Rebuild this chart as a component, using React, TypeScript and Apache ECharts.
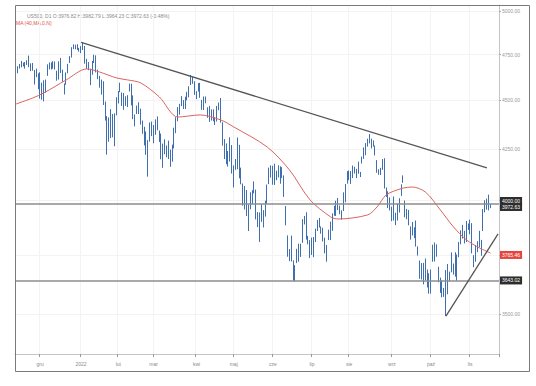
import React, { useEffect, useRef } from "react";
import * as echarts from "echarts";

// trading sessions per month (day numbers); last 4 sessions of 2022-11 are empty space on the right
const months = ["2021-11", "2021-12", "2022-01", "2022-02", "2022-03", "2022-04", "2022-05", "2022-06", "2022-07", "2022-08", "2022-09", "2022-10", "2022-11"];
const monthDays: number[][] = [
  [11, 12, 15, 16, 17, 18, 19, 22, 23, 24, 26, 29, 30],
  [1, 2, 3, 6, 7, 8, 9, 10, 13, 14, 15, 16, 17, 20, 21, 22, 23, 27, 28, 29, 30, 31],
  [3, 4, 5, 6, 7, 10, 11, 12, 13, 14, 18, 19, 20, 21, 24, 25, 26, 27, 28, 31],
  [1, 2, 3, 4, 7, 8, 9, 10, 11, 14, 15, 16, 17, 18, 22, 23, 24, 25, 28],
  [1, 2, 3, 4, 7, 8, 9, 10, 11, 14, 15, 16, 17, 18, 21, 22, 23, 24, 25, 28, 29, 30, 31],
  [1, 4, 5, 6, 7, 8, 11, 12, 13, 14, 18, 19, 20, 21, 22, 25, 26, 27, 28, 29],
  [2, 3, 4, 5, 6, 9, 10, 11, 12, 13, 16, 17, 18, 19, 20, 23, 24, 25, 26, 27, 31],
  [1, 2, 3, 6, 7, 8, 9, 10, 13, 14, 15, 16, 17, 21, 22, 23, 24, 27, 28, 29, 30],
  [1, 5, 6, 7, 8, 11, 12, 13, 14, 15, 18, 19, 20, 21, 22, 25, 26, 27, 28, 29],
  [1, 2, 3, 4, 5, 8, 9, 10, 11, 12, 15, 16, 17, 18, 19, 22, 23, 24, 25, 26, 29, 30, 31],
  [1, 2, 6, 7, 8, 9, 12, 13, 14, 15, 16, 19, 20, 21, 22, 23, 26, 27, 28, 29, 30],
  [3, 4, 5, 6, 7, 10, 11, 12, 13, 14, 17, 18, 19, 20, 21, 24, 25, 26, 27, 28, 31],
  [1, 2, 3, 4, 7, 8, 9, 10, 11, 14, 15, 16, 17, 18, 21, 22],
];
const monthLabels = ["", "gru", "2022", "lut", "mar", "kwi", "maj", "cze", "lip", "sie", "wrz", "paź", "lis"];

// [open, high, low, close]
const ohlc: number[][] = [
  [4659, 4664, 4648, 4649], [4656, 4685, 4646, 4683], [4689, 4697, 4672, 4683], [4680, 4714, 4679, 4701], [4701, 4705, 4684, 4689],
  [4700, 4708, 4672, 4705], [4708, 4718, 4692, 4698], [4712, 4744, 4680, 4683], [4679, 4701, 4658, 4691], [4676, 4703, 4660, 4701],
  [4664, 4664, 4585, 4595], [4628, 4672, 4625, 4655], [4640, 4646, 4560, 4567],
  [4602, 4652, 4510, 4513], [4504, 4595, 4504, 4577], [4590, 4608, 4495, 4538], [4548, 4612, 4541, 4592], [4632, 4695, 4632, 4687],
  [4690, 4706, 4668, 4701], [4691, 4706, 4667, 4667], [4688, 4713, 4671, 4712], [4710, 4711, 4667, 4669], [4642, 4660, 4606, 4634],
  [4637, 4712, 4612, 4710], [4719, 4731, 4648, 4669], [4652, 4666, 4600, 4621], [4588, 4591, 4532, 4568], [4594, 4651, 4584, 4649],
  [4650, 4698, 4646, 4697], [4703, 4741, 4703, 4726], [4733, 4791, 4733, 4791], [4795, 4807, 4780, 4786], [4788, 4805, 4779, 4793],
  [4794, 4808, 4776, 4779], [4776, 4787, 4766, 4766],
  [4779, 4797, 4758, 4797], [4804, 4819, 4775, 4794], [4788, 4798, 4699, 4701], [4693, 4726, 4671, 4696], [4698, 4708, 4663, 4677],
  [4656, 4671, 4582, 4670], [4670, 4714, 4638, 4713], [4728, 4749, 4703, 4726], [4734, 4745, 4651, 4659], [4637, 4666, 4614, 4663],
  [4632, 4632, 4568, 4577], [4588, 4612, 4531, 4533], [4548, 4603, 4476, 4483], [4471, 4494, 4395, 4398], [4357, 4418, 4222, 4410],
  [4367, 4411, 4287, 4356], [4381, 4454, 4305, 4350], [4381, 4429, 4309, 4327], [4337, 4432, 4264, 4432], [4431, 4517, 4422, 4516],
  [4520, 4550, 4484, 4547], [4566, 4595, 4544, 4589], [4535, 4542, 4471, 4477], [4483, 4540, 4451, 4501], [4505, 4522, 4471, 4484],
  [4481, 4528, 4465, 4522], [4548, 4590, 4548, 4587], [4554, 4589, 4474, 4504], [4506, 4527, 4402, 4419], [4413, 4426, 4365, 4402],
  [4430, 4473, 4429, 4471], [4456, 4490, 4429, 4475], [4456, 4457, 4374, 4380], [4385, 4395, 4327, 4349], [4332, 4363, 4268, 4305],
  [4324, 4339, 4221, 4226], [4156, 4295, 4114, 4289], [4298, 4385, 4287, 4385], [4354, 4389, 4315, 4374],
  [4363, 4372, 4279, 4306], [4322, 4401, 4322, 4387], [4401, 4416, 4345, 4363], [4342, 4343, 4285, 4329], [4327, 4328, 4199, 4201],
  [4202, 4277, 4157, 4171], [4224, 4299, 4224, 4278], [4253, 4268, 4209, 4260], [4279, 4292, 4200, 4204], [4203, 4247, 4162, 4173],
  [4189, 4272, 4187, 4262], [4289, 4358, 4253, 4358], [4346, 4412, 4330, 4412], [4398, 4465, 4391, 4463], [4462, 4482, 4425, 4461],
  [4470, 4523, 4470, 4512], [4493, 4502, 4455, 4456], [4469, 4520, 4455, 4520], [4523, 4546, 4501, 4543], [4542, 4576, 4517, 4576],
  [4603, 4637, 4582, 4632], [4624, 4627, 4589, 4602], [4600, 4603, 4530, 4530],
  [4540, 4549, 4507, 4546], [4547, 4593, 4547, 4583], [4573, 4594, 4514, 4525], [4495, 4503, 4451, 4481], [4475, 4521, 4450, 4500],
  [4494, 4521, 4485, 4488], [4462, 4464, 4409, 4413], [4437, 4471, 4388, 4397], [4397, 4453, 4395, 4447], [4449, 4453, 4391, 4393],
  [4385, 4411, 4372, 4392], [4390, 4471, 4390, 4462], [4473, 4489, 4448, 4459], [4489, 4513, 4384, 4394], [4385, 4386, 4267, 4272],
  [4255, 4300, 4200, 4296], [4278, 4278, 4175, 4175], [4187, 4240, 4163, 4184], [4223, 4309, 4188, 4288], [4253, 4270, 4129, 4132],
  [4130, 4169, 4062, 4155], [4159, 4200, 4147, 4175], [4181, 4308, 4150, 4300], [4271, 4271, 4106, 4147], [4129, 4158, 4077, 4123],
  [4081, 4081, 3976, 3991], [4035, 4069, 3958, 4001], [3991, 4050, 3928, 3935], [3904, 3981, 3859, 3930], [3964, 4039, 3959, 4024],
  [4013, 4049, 3983, 4008], [4053, 4091, 4034, 4089], [4052, 4052, 3912, 3924], [3899, 3946, 3877, 3901], [3928, 3944, 3810, 3901],
  [3920, 3982, 3901, 3974], [3942, 3955, 3875, 3941], [3929, 3999, 3925, 3979], [3985, 4076, 3985, 4058], [4078, 4158, 4078, 4158],
  [4151, 4169, 4110, 4132],
  [4150, 4167, 4075, 4101], [4096, 4177, 4074, 4177], [4137, 4143, 4097, 4109], [4135, 4169, 4110, 4121], [4097, 4164, 4080, 4161],
  [4148, 4160, 4107, 4116], [4102, 4120, 4017, 4018], [3974, 3974, 3885, 3901], [3838, 3839, 3744, 3750], [3764, 3778, 3725, 3735],
  [3765, 3838, 3723, 3790], [3728, 3728, 3640, 3667], [3666, 3707, 3637, 3675], [3716, 3779, 3716, 3765], [3733, 3802, 3722, 3760],
  [3774, 3802, 3743, 3796], [3806, 3913, 3806, 3912], [3921, 3928, 3889, 3900], [3913, 3945, 3820, 3822], [3825, 3837, 3799, 3819],
  [3785, 3818, 3738, 3785],
  [3782, 3829, 3752, 3825], [3792, 3832, 3742, 3831], [3831, 3870, 3809, 3845], [3859, 3910, 3859, 3903], [3888, 3919, 3875, 3899],
  [3880, 3880, 3847, 3854], [3851, 3874, 3812, 3819], [3779, 3829, 3759, 3802], [3764, 3796, 3722, 3790], [3820, 3865, 3818, 3863],
  [3883, 3902, 3818, 3831], [3861, 3940, 3860, 3937], [3935, 3975, 3929, 3960], [3956, 3999, 3928, 3999], [4001, 4012, 3955, 3962],
  [3966, 3976, 3936, 3967], [3953, 3954, 3911, 3921], [3951, 4039, 3951, 4024], [4027, 4079, 3992, 4072], [4088, 4141, 4080, 4130],
  [4112, 4144, 4097, 4119], [4104, 4141, 4079, 4091], [4107, 4168, 4107, 4155], [4154, 4162, 4129, 4152], [4116, 4152, 4107, 4145],
  [4156, 4187, 4128, 4140], [4134, 4137, 4112, 4122], [4181, 4212, 4178, 4210], [4227, 4258, 4201, 4207], [4225, 4280, 4219, 4280],
  [4270, 4302, 4262, 4297], [4290, 4325, 4278, 4305], [4281, 4302, 4253, 4274], [4274, 4293, 4262, 4284], [4267, 4267, 4218, 4228],
  [4195, 4195, 4133, 4138], [4134, 4150, 4123, 4129], [4127, 4157, 4122, 4141], [4154, 4200, 4147, 4199], [4199, 4204, 4057, 4058],
  [4034, 4062, 4017, 4031], [4041, 4044, 3965, 3986], [4000, 4015, 3954, 3955],
  [3937, 3971, 3904, 3967], [3995, 4019, 3907, 3924], [3930, 3943, 3886, 3908], [3910, 3987, 3907, 3980], [3959, 4011, 3944, 4006],
  [4022, 4077, 4022, 4067], [4084, 4120, 4084, 4110], [4000, 4000, 3922, 3933], [3940, 3961, 3913, 3946], [3932, 3956, 3885, 3901],
  [3830, 3880, 3820, 3873], [3849, 3900, 3839, 3900], [3876, 3876, 3827, 3856], [3872, 3907, 3789, 3790], [3782, 3790, 3749, 3758],
  [3727, 3727, 3648, 3693], [3682, 3716, 3645, 3655], [3687, 3717, 3624, 3647], [3652, 3736, 3641, 3719], [3688, 3688, 3611, 3640],
  [3634, 3672, 3585, 3586],
  [3609, 3688, 3585, 3678], [3722, 3797, 3722, 3791], [3754, 3807, 3723, 3783], [3772, 3799, 3744, 3745], [3700, 3700, 3633, 3640],
  [3647, 3653, 3588, 3612], [3595, 3641, 3569, 3589], [3591, 3609, 3571, 3577], [3520, 3686, 3491, 3670], [3691, 3712, 3582, 3583],
  [3638, 3679, 3638, 3678], [3746, 3763, 3676, 3720], [3683, 3714, 3666, 3695], [3689, 3764, 3657, 3666], [3657, 3754, 3640, 3753],
  [3762, 3810, 3742, 3797], [3799, 3862, 3799, 3859], [3825, 3887, 3825, 3831], [3835, 3860, 3803, 3807], [3809, 3905, 3809, 3901],
  [3881, 3893, 3864, 3872],
  [3901, 3911, 3844, 3856], [3853, 3895, 3759, 3760], [3733, 3751, 3698, 3720], [3767, 3796, 3722, 3771], [3781, 3813, 3764, 3807],
  [3817, 3860, 3786, 3828], [3810, 3819, 3748, 3749], [3859, 3960, 3859, 3956], [3964, 4001, 3945, 3993], [3978, 4009, 3957, 3957],
  [4007, 4028, 3954, 3992], [3976.82, 3982.79, 3964.23, 3972.63],
];

// moving average: [session index, value]
const maPoints: number[][] = [
  [0, 4481], [9, 4513], [15, 4540], [27, 4610], [38, 4670], [45, 4653], [54, 4621], [60, 4610], [67, 4594],
  [77, 4519], [87, 4413], [99, 4424], [110, 4398], [117, 4362], [135, 4260], [147, 4146], [158, 4003],
  [169, 3924], [173, 3914], [189, 3933], [194, 3970], [199, 4027], [208, 4059], [213, 4064], [220, 4040],
  [228, 3956], [235, 3878], [242, 3819], [249, 3783], [255, 3760],
];

const yTicks = [3500, 3750, 4000, 4250, 4500, 4750, 5000];
const yLabelTicks = [3500, 4250, 4500, 4750, 5000];
const yRange = [3339, 5035];
const levels = [4000, 3643.02];
const lastPrice = 3972.63;
const maLast = 3765.46;
const trendDown = [[35, 4818], [253, 4157]];
const trendUp = [[231, 3491], [259, 3846]];
const header = "US500, D1 O:3976.82 H:3982.79 L:3964.23 C:3972.63 (-0.48%)";
const maTitle = "MA (40,MA,0,N)";

export default function App() {
  const ref = useRef<HTMLDivElement>(null);
  useEffect(() => {
    const chart = echarts.init(ref.current!, null, { renderer: "svg" });
    const L = Math.log;
    const font = "Liberation Sans";
    const categories: string[] = [];
    const labelAt: Record<number, string> = {};
    months.forEach((m, mi) => {
      monthDays[mi].forEach((d, di) => {
        if (di === 0 && monthLabels[mi]) labelAt[categories.length] = monthLabels[mi];
        categories.push(`${m}-${String(d).padStart(2, "0")}`);
      });
    });
    const isMonth = (i: number) => labelAt[i] !== undefined;
    const fmt = (v: number) => v.toFixed(2);
    const box = (bg: string, text: string, offY: number) => ({
      show: true,
      position: "end",
      distance: 1,
      formatter: text,
      color: "#fff",
      backgroundColor: bg,
      fontSize: 5,
      fontFamily: font,
      padding: [2, 2, 1, 2],
      offset: [0, offY],
    });
    const lvlLine = { color: "#8c8c8c", width: 1.5, type: "solid" };
    const hiddenLine = { color: "rgba(0,0,0,0)", width: 0 };
    const trendStyle = { color: "#555", width: 1.3, type: "solid" };
    const barColor = "#3f6fae";

    chart.setOption({
      animation: false,
      backgroundColor: "#fff",
      grid: { left: 15, right: 37, top: 5, bottom: 32, containLabel: false },
      xAxis: {
        type: "category",
        data: categories,
        boundaryGap: true,
        axisLine: { lineStyle: { color: "#c4c4c4", width: 1 } },
        axisTick: { show: true, interval: (i: number) => isMonth(i), length: 3, lineStyle: { color: "#999" } },
        axisLabel: {
          interval: (i: number) => isMonth(i),
          formatter: (_v: string, i: number) => labelAt[i] ?? "",
          fontSize: 5,
          fontFamily: font,
          color: "#8a8a8a",
          margin: 7,
        },
        splitLine: { show: true, interval: (i: number) => isMonth(i), lineStyle: { color: "#f3f3f3", width: 1 } },
      },
      yAxis: {
        type: "value",
        position: "right",
        min: L(yRange[0]),
        max: L(yRange[1]),
        axisLine: { show: true, lineStyle: { color: "#c4c4c4", width: 1 } },
        axisTick: { show: true, length: 2, customValues: yTicks.map(L), lineStyle: { color: "#aaa" } },
        axisLabel: {
          customValues: yLabelTicks.map(L),
          formatter: (v: number) => fmt(Math.exp(v)),
          fontSize: 5,
          fontFamily: font,
          color: "#999",
          margin: 3,
        },
        splitLine: { show: true, lineStyle: { color: "#f3f3f3", width: 1 } },
      },
      series: [
        {
          type: "candlestick",
          data: ohlc.map(([o, h, l, c]) => [L(o), L(c), L(l), L(h)]),
          barWidth: 1.2,
          itemStyle: { color: barColor, color0: barColor, borderColor: barColor, borderColor0: barColor, borderWidth: 1 },
          markLine: {
            silent: true,
            symbol: ["none", "none"],
            animation: false,
            data: [
              { yAxis: L(levels[0]), lineStyle: lvlLine, label: box("#2d2d2d", fmt(levels[0]), -3) },
              { yAxis: L(levels[1]), lineStyle: lvlLine, label: box("#2d2d2d", fmt(levels[1]), 0) },
              { yAxis: L(lastPrice), lineStyle: hiddenLine, label: box("#2d2d2d", fmt(lastPrice), 3) },
              [
                { coord: [trendDown[0][0], L(trendDown[0][1])], lineStyle: trendStyle, label: { show: false } },
                { coord: [trendDown[1][0], L(trendDown[1][1])] },
              ],
              [
                { coord: [trendUp[0][0], L(trendUp[0][1])], lineStyle: trendStyle, label: { show: false } },
                { coord: [trendUp[1][0], L(trendUp[1][1])] },
              ],
            ],
          },
          z: 3,
        },
        {
          type: "line",
          data: maPoints.map(([i, v]) => [i, L(v)]),
          showSymbol: false,
          smooth: 0.3,
          lineStyle: { color: "#d9645f", width: 1 },
          z: 4,
          markLine: {
            silent: true,
            symbol: ["none", "none"],
            animation: false,
            data: [{ yAxis: L(maLast), lineStyle: hiddenLine, label: box("#e5453d", fmt(maLast), 0) }],
          },
        },
      ],
      graphic: [
        {
          type: "text",
          x: 27,
          y: 16,
          style: { text: header, fontSize: 5, fontFamily: font, fill: "#8a8a8a", verticalAlign: "middle" },
        },
        {
          type: "text",
          x: 16,
          y: 23,
          style: { text: maTitle, fontSize: 5, fontFamily: font, fill: "#e0504a", verticalAlign: "middle" },
        },
        {
          type: "rect",
          shape: { x: 15.5, y: 5.5, width: 514, height: 366 },
          style: { fill: "none", stroke: "#7a7a7a", lineWidth: 1 },
          silent: true,
          z: 100,
        },
      ],
    });
    return () => chart.dispose();
  }, []);
  return <div ref={ref} style={{ position: "fixed", left: 0, top: 0, width: 536, height: 386, background: "#fff" }} />;
}
